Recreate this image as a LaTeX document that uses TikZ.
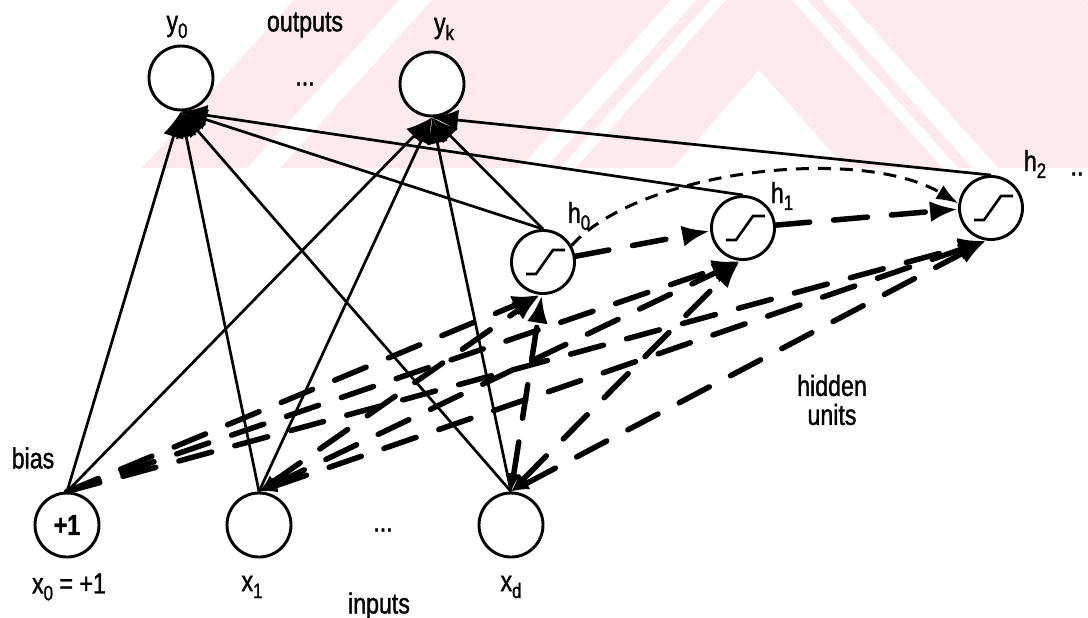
\documentclass[tikz,border=0pt]{standalone}
\usepackage{fontspec}
\setmainfont{Liberation Sans}[FakeStretch=0.8,FakeBold=1.2]
\usetikzlibrary{arrows.meta}
\definecolor{wm}{RGB}{253,234,238}
\newcommand\sbx[1]{\raisebox{-0.45ex}{\fontsize{21}{23}\selectfont #1}}
\newcommand\sigmark[1]{\draw[sigline] ([shift={(-17,12)}]#1.center) -- ++(10,0) -- ++(17,-24) -- ++(12,0);}
\begin{document}
\begin{tikzpicture}[x=1pt,y=-1pt,
  unit/.style={circle,draw,line width=2.9pt,minimum size=64pt,inner sep=0pt,fill=white},
  hid/.style={unit,minimum size=63pt},
  lab/.style={inner sep=0pt,font=\fontsize{29}{29}\selectfont},
  conn/.style={line width=2.7pt,-{Latex[length=26pt,width=21pt]}},
  fwd/.style={line width=5.5pt,line cap=round,dash pattern=on 34pt off 24pt,-{Latex[length=28pt,width=21pt]}},
  fwdb/.style={fwd,{Latex[length=18pt,width=14pt]}-{Latex[length=28pt,width=21pt]}},
  curv/.style={line width=3pt,dash pattern=on 13pt off 9pt,-{Latex[length=22pt,width=16pt]}},
  sigline/.style={line width=2.6pt}
]
\useasboundingbox (0,0) rectangle (1088,618);
% watermark
\begin{scope}
\clip (0,0) rectangle (1088,168);
\fill[wm] (759,-514) -- (1376.3,168) -- (141.7,168) -- cycle;
\fill[white] (759,-398) -- (1270.8,168) -- (1238.1,168) -- (759,-362) -- (279.9,168) -- (247.2,168) -- cycle;
\fill[white] (759,-98) -- (998.1,168) -- (972.6,168) -- (759,-70) -- (545.4,168) -- (519.9,168) -- cycle;
\fill[white] (759,-54) -- (958.1,168) -- (942.6,168) -- (759,-37) -- (575.4,168) -- (559.9,168) -- cycle;
\fill[white] (759,70) -- (845.4,168) -- (672.6,168) -- cycle;
\end{scope}
% units
\node[unit] (y0) at (181,78) {};
\node[unit] (yk) at (432,84) {};
\node[unit,font=\fontsize{29}{29}\selectfont\bfseries] (one) at (67,525) {+1};
\node[unit] (x1) at (259,525) {};
\node[unit] (xd) at (511,525) {};
\node[hid] (h0) at (543,262) {};
\node[hid] (h1) at (743,228) {};
\node[hid] (h2) at (991,208) {};
\sigmark{h0}
\sigmark{h1}
\sigmark{h2}
% labels
\node[lab] (ly0) at (177,27) {y\sbx{0}};
\node[lab] (lout) at (305,25) {outputs};
\node[lab] (lyk) at (444,29) {y\sbx{k}};
\node[lab] (dots1) at (305,84) {...};
\node[lab] (lh0) at (579,216) {h\sbx{0}};
\node[lab] (lh1) at (782,196) {h\sbx{1}};
\node[lab] (lh2) at (1035,164) {h\sbx{2}};
\node[lab] (dots3) at (1077,174) {..};
\node[lab] (lbias) at (33,458) {bias};
\node[lab] (lx0) at (69,587) {x\sbx{0} = +1};
\node[lab] (lx1) at (252,587) {x\sbx{1}};
\node[lab] (lxd) at (511,587) {x\sbx{d}};
\node[lab] (linp) at (379,606) {inputs};
\node[lab] (dots2) at (383,530) {...};
\node[lab,align=center] (lhid) at (832,400) {hidden\\units};
% solid connections to outputs
\draw[conn] (one.north) -- (y0.south);
\draw[conn] (x1.north) -- (y0.south);
\draw[conn] (xd.north) -- (y0.south);
\draw[conn] (h0.north) -- (y0.south);
\draw[conn] (h1.north) -- (y0.south);
\draw[conn] (one.north) -- (yk.south);
\draw[conn] (x1.north) -- (yk.south);
\draw[conn] (xd.north) -- (yk.south);
\draw[conn] (h0.north) -- (yk.south);
\draw[conn] (h2.north) -- (yk.south);
% dashed connections to hidden units
\draw[fwd] (one.north) -- (h0.265);
\draw[fwd] (one.north) -- (h1.265);
\draw[fwd] (one.north) -- (h2.262);
\draw[fwdb] (x1.north) -- (h0.265);
\draw[fwdb] (x1.north) -- (h1.265);
\draw[fwdb] (x1.north) -- (h2.262);
\draw[fwdb] (xd.north) -- (h0.268);
\draw[fwdb] (xd.north) -- (h1.265);
\draw[fwdb] (xd.north) -- (h2.262);
% hidden to hidden
\draw[fwd] (h0.10) -- (h1.185);
\draw[fwd] (h1.5) -- (h2.182);
\draw[curv] (h0.30) .. controls (640,170) and (860,145) .. (h2.172);
\end{tikzpicture}
\end{document}
